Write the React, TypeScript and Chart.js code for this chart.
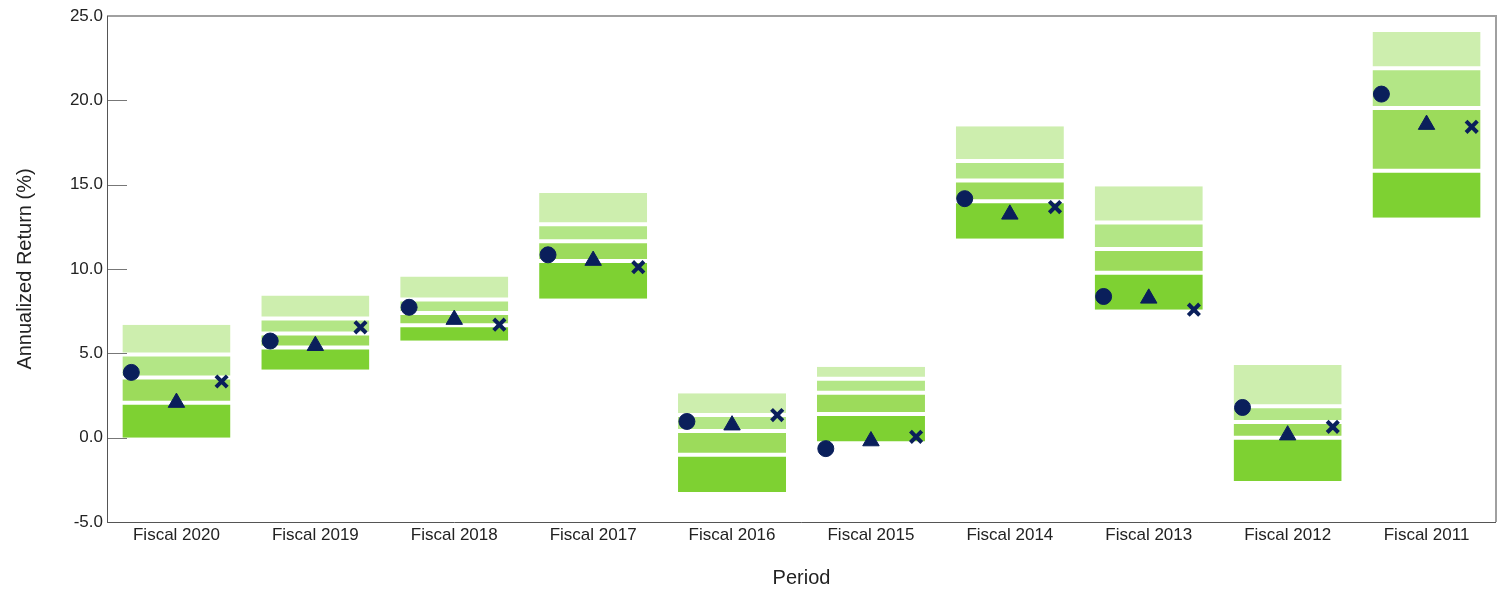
import React, { useEffect, useRef } from "react";
import { Chart, registerables } from "chart.js";

Chart.register(...registerables);

const categories = [
  "Fiscal 2020", "Fiscal 2019", "Fiscal 2018", "Fiscal 2017", "Fiscal 2016",
  "Fiscal 2015", "Fiscal 2014", "Fiscal 2013", "Fiscal 2012", "Fiscal 2011",
];

// Percentile band boundaries (5th, 25th, 50th, 75th, 95th)
const p5 = [0.0, 4.03, 5.75, 8.23, -3.22, -0.23, 11.79, 7.58, -2.57, 13.04];
const p25 = [2.07, 5.34, 6.67, 10.48, -1.01, 1.4, 14.01, 9.78, -0.01, 15.83];
const p50 = [3.57, 6.17, 7.39, 11.65, 0.39, 2.66, 15.24, 11.19, 0.93, 19.54];
const p75 = [4.93, 7.07, 8.19, 12.66, 1.34, 3.5, 16.41, 12.75, 1.86, 21.9];
const p95 = [6.7, 8.43, 9.55, 14.5, 2.64, 4.21, 18.47, 14.9, 4.31, 24.05];

// Marker series
const circleValues = [3.87, 5.73, 7.73, 10.84, 0.96, -0.65, 14.17, 8.37, 1.79, 20.37];
const triangleValues = [2.08, 5.45, 7.0, 10.5, 0.74, -0.2, 13.24, 8.26, 0.15, 18.56];
const crossValues = [3.33, 6.54, 6.7, 10.11, 1.34, 0.05, 13.67, 7.59, 0.64, 18.43];

const yTicks = [-5, 0, 5, 10, 15, 20, 25];

const NAVY = "#0a1f5b";
const BAND_COLORS = ["#7ed132", "#9cdb5b", "#b3e686", "#cdeeae"];
const FONT = "Arial, 'Liberation Sans', sans-serif";

const framePlugin = {
  id: "frame",
  afterDatasetsDraw(chart: any) {
    const { ctx, chartArea: a, scales } = chart;
    ctx.save();
    ctx.strokeStyle = "#777";
    ctx.lineWidth = 1;
    for (const v of yTicks) {
      const y = Math.round(scales.y.getPixelForValue(v)) + 0.5;
      ctx.beginPath();
      ctx.moveTo(a.left, y);
      ctx.lineTo(a.left + 20, y);
      ctx.stroke();
    }
    ctx.strokeStyle = "#a0a0a0";
    ctx.lineWidth = 2;
    ctx.beginPath();
    ctx.moveTo(a.left, a.top);
    ctx.lineTo(a.right, a.top);
    ctx.lineTo(a.right, a.bottom);
    ctx.stroke();
    ctx.strokeStyle = "#555";
    ctx.lineWidth = 1;
    ctx.beginPath();
    ctx.moveTo(a.left + 0.5, a.top);
    ctx.lineTo(a.left + 0.5, a.bottom + 0.5);
    ctx.lineTo(a.right, a.bottom + 0.5);
    ctx.stroke();
    ctx.restore();
  },
};

export default function App() {
  const canvasRef = useRef<HTMLCanvasElement | null>(null);

  useEffect(() => {
    if (!canvasRef.current) return;
    const bounds = [p5, p25, p50, p75, p95];
    const borders = [
      { top: 2, bottom: 0, left: 0, right: 0 },
      { top: 2, bottom: 2, left: 0, right: 0 },
      { top: 2, bottom: 2, left: 0, right: 0 },
      { top: 0, bottom: 2, left: 0, right: 0 },
    ];
    const barSets = [0, 1, 2, 3].map((b) => ({
      type: "bar" as const,
      label: "band" + b,
      data: categories.map((_, i) => ({ x: i, y: [bounds[b][i], bounds[b + 1][i]] })),
      backgroundColor: BAND_COLORS[b],
      borderColor: "#ffffff",
      borderWidth: borders[b],
      borderSkipped: false,
      grouped: false,
      barPercentage: 0.778,
      categoryPercentage: 1,
      order: 1,
    }));
    const pointSet = (vals: number[], off: number, style: string, r: number, bw: number) => ({
      type: "line" as const,
      data: vals.map((v, i) => ({ x: i + off, y: v })),
      showLine: false,
      pointStyle: style,
      pointRadius: r,
      pointHoverRadius: r,
      pointBackgroundColor: NAVY,
      pointBorderColor: NAVY,
      pointBorderWidth: bw,
      order: 0,
    });

    const chart = new Chart(canvasRef.current, {
      type: "bar",
      data: {
        datasets: [
          pointSet(circleValues, -0.325, "circle", 8, 1),
          pointSet(triangleValues, 0, "triangle", 9.5, 1),
          pointSet(crossValues, 0.325, "crossRot", 8, 4),
          ...barSets,
        ] as any,
      },
      options: {
        animation: false,
        responsive: false,
        maintainAspectRatio: false,
        layout: { padding: { left: 0, right: 5, top: 16, bottom: 0 } },
        plugins: { legend: { display: false }, tooltip: { enabled: false } },
        scales: {
          x: {
            type: "linear",
            offset: false,
            min: -0.5,
            max: 9.5,
            grid: { display: false, drawTicks: false, offset: false },
            border: { display: false },
            afterBuildTicks: (s: any) => { s.ticks = categories.map((_, i) => ({ value: i })); },
            ticks: {
              color: "#222",
              font: { family: FONT, size: 17 },
              padding: 3,
              maxRotation: 0,
              autoSkip: false,
              callback: (v: any) => categories[Math.round(Number(v))] ?? "",
            },
            title: {
              display: true,
              text: "Period",
              color: "#222",
              font: { family: FONT, size: 20 },
              padding: { top: 0, bottom: 0 },
            },
            afterFit: (s: any) => { s.height = 68; },
          },
          y: {
            type: "linear",
            min: -5,
            max: 25,
            grid: { display: false, drawTicks: false },
            border: { display: false },
            afterBuildTicks: (s: any) => { s.ticks = yTicks.map((v) => ({ value: v })); },
            ticks: {
              color: "#222",
              font: { family: FONT, size: 17 },
              padding: 4,
              callback: (v: any) => Number(v).toFixed(1),
            },
            title: {
              display: true,
              text: "Annualized Return (%)",
              color: "#222",
              font: { family: FONT, size: 20 },
              padding: { top: 13, bottom: 0 },
            },
            afterFit: (s: any) => { s.width = 107; },
          },
        },
      },
      plugins: [framePlugin],
    });
    return () => chart.destroy();
  }, []);

  return (
    <div style={{ position: "fixed", left: 0, top: 0, width: 1501, height: 590, overflow: "hidden", background: "#fff" }}>
      <canvas ref={canvasRef} width={1508} height={590} style={{ display: "block", width: 1508, height: 590 }} />
    </div>
  );
}
